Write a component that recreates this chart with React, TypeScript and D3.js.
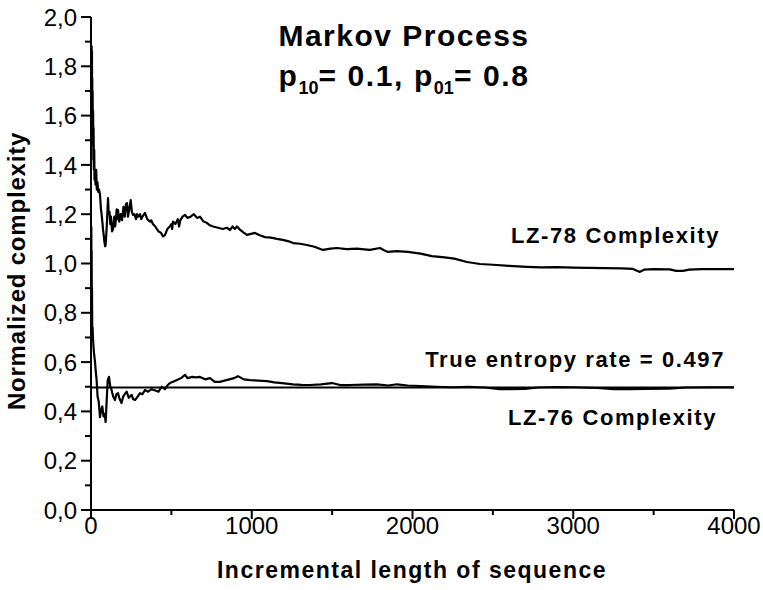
import { useEffect, useRef } from "react";
import * as d3 from "d3";

// LZ-78 normalized complexity vs. sequence length
const lz78: [number, number][] = [
  [1, 1.5], [2, 1.87], [3, 1.55], [4, 1.88], [5, 1.62], [6, 1.86], [7, 1.58], [8, 1.75],
  [9, 1.5], [10, 1.7], [12, 1.48], [13, 1.62], [15, 1.42], [16, 1.55], [18, 1.38], [20, 1.46],
  [22, 1.34], [25, 1.36], [28, 1.32], [32, 1.38], [36, 1.3], [40, 1.33], [45, 1.29], [50, 1.3],
  [56, 1.28], [62, 1.22], [66, 1.2], [72, 1.16], [75, 1.136], [80, 1.11], [83, 1.09],
  [88, 1.07], [91, 1.075], [98, 1.15], [106, 1.265], [110, 1.2], [115, 1.21], [120, 1.16], [124, 1.19], [131, 1.13],
  [137, 1.14], [145, 1.19], [150, 1.15], [152, 1.16], [160, 1.22], [165, 1.18], [168, 1.217], [176, 1.17],
  [185, 1.2], [193, 1.176], [202, 1.23], [210, 1.19], [217, 1.24], [224, 1.245],
  [230, 1.19], [238, 1.22], [247, 1.257], [254, 1.21], [261, 1.197], [270, 1.2],
  [280, 1.18], [286, 1.2], [292, 1.19], [305, 1.2], [312, 1.18], [320, 1.19], [336, 1.205], [350, 1.18],
  [367, 1.17], [375, 1.175], [385, 1.16], [400, 1.15], [410, 1.14], [420, 1.13], [435, 1.125], [448, 1.11],
  [460, 1.115], [475, 1.14], [490, 1.15], [500, 1.16], [505, 1.14], [510, 1.17], [525, 1.16], [540, 1.18],
  [548, 1.15], [555, 1.175], [570, 1.19], [585, 1.197], [600, 1.185], [620, 1.19], [640, 1.2],
  [660, 1.185], [678, 1.19], [700, 1.17], [720, 1.165], [740, 1.155], [760, 1.15],
  [790, 1.145], [820, 1.14], [845, 1.145], [865, 1.136], [880, 1.15], [895, 1.14],
  [908, 1.15], [930, 1.135], [950, 1.125], [970, 1.116], [995, 1.12], [1020, 1.124],
  [1050, 1.115], [1082, 1.107], [1120, 1.105], [1157, 1.1], [1200, 1.095], [1230, 1.09],
  [1257, 1.083], [1300, 1.08], [1343, 1.075], [1390, 1.068], [1443, 1.055], [1490, 1.06],
  [1530, 1.063], [1590, 1.058], [1655, 1.06], [1700, 1.057], [1735, 1.055], [1798, 1.063],
  [1820, 1.055], [1847, 1.047], [1900, 1.05], [1972, 1.047], [2050, 1.04], [2120, 1.03],
  [2200, 1.025], [2260, 1.02], [2339, 1.006], [2420, 0.998], [2500, 0.995], [2600, 0.99],
  [2712, 0.986], [2800, 0.984], [2900, 0.985], [3000, 0.983], [3100, 0.982], [3200, 0.981],
  [3300, 0.98], [3372, 0.978], [3400, 0.97], [3415, 0.966], [3440, 0.975], [3500, 0.977],
  [3600, 0.976], [3640, 0.97], [3683, 0.97], [3720, 0.975], [3800, 0.977], [3900, 0.977],
  [4000, 0.977],
];

// LZ-76 normalized complexity
const lz76: [number, number][] = [
  [2, 1.15], [3, 0.95], [4, 1.05], [5, 0.85], [6, 0.9], [8, 0.72], [10, 0.74], [12, 0.7], [18, 0.64], [25, 0.6],
  [30, 0.56], [35, 0.527], [41, 0.46], [48, 0.44], [56, 0.377], [62, 0.4], [70, 0.42],
  [78, 0.38], [85, 0.39], [91, 0.357], [98, 0.45], [104, 0.527], [112, 0.54], [120, 0.5],
  [128, 0.487], [138, 0.46], [149, 0.446], [158, 0.47], [168, 0.474], [178, 0.45],
  [190, 0.434], [200, 0.46], [210, 0.47], [222, 0.48], [235, 0.455], [253, 0.467],
  [262, 0.45], [274, 0.446], [290, 0.46], [305, 0.474], [320, 0.47], [336, 0.487],
  [355, 0.48], [377, 0.49], [400, 0.485], [420, 0.48], [440, 0.5], [460, 0.49],
  [475, 0.505], [491, 0.515], [510, 0.52], [535, 0.527], [560, 0.535], [585, 0.548],
  [600, 0.535], [630, 0.54], [650, 0.538], [678, 0.54], [710, 0.53], [740, 0.535],
  [770, 0.52], [802, 0.52], [830, 0.525], [860, 0.53], [890, 0.535], [914, 0.543],
  [950, 0.53], [990, 0.527], [1040, 0.525], [1095, 0.523], [1140, 0.518], [1188, 0.515],
  [1257, 0.51], [1310, 0.508], [1362, 0.507], [1430, 0.51], [1499, 0.515], [1550, 0.507],
  [1611, 0.507], [1700, 0.509], [1779, 0.51], [1850, 0.505], [1903, 0.51], [1970, 0.505],
  [2050, 0.503], [2150, 0.5], [2250, 0.498], [2350, 0.5], [2450, 0.497], [2540, 0.49],
  [2600, 0.49], [2700, 0.491], [2780, 0.497], [2900, 0.499], [3000, 0.498], [3150, 0.495],
  [3250, 0.49], [3350, 0.49], [3450, 0.491], [3600, 0.492], [3700, 0.497], [3850, 0.498],
  [4000, 0.498],
];

const entropyRate = 0.497;
const xMajor = [0, 1000, 2000, 3000, 4000];
const xMinor = [500, 1500, 2500, 3500];
const yMajor = [0, 0.2, 0.4, 0.6, 0.8, 1.0, 1.2, 1.4, 1.6, 1.8, 2.0];
const yMinor = [0.1, 0.3, 0.5, 0.7, 0.9, 1.1, 1.3, 1.5, 1.7, 1.9];

export default function App() {
  const ref = useRef<SVGSVGElement>(null);

  useEffect(() => {
    const width = 763;
    const height = 590;
    const m = { left: 91, right: 29, top: 17, bottom: 80 };
    const font = "'Liberation Sans', Arial, sans-serif";

    const svg = d3.select(ref.current);
    svg.selectAll("*").remove();

    const x = d3.scaleLinear().domain([0, 4000]).range([m.left, width - m.right]);
    const y = d3.scaleLinear().domain([0, 2]).range([height - m.bottom, m.top]);
    const commaFmt = (v: number) => d3.format(".1f")(v).replace(".", ",");

    /* -------- axes -------- */
    const axes = svg.append("g").attr("stroke", "#000").attr("stroke-width", 2);
    axes.append("line")
      .attr("x1", x(0)).attr("x2", x(0))
      .attr("y1", y(0) + 1).attr("y2", y(2));
    axes.append("line")
      .attr("x1", x(0) - 1).attr("x2", x(4000))
      .attr("y1", y(0)).attr("y2", y(0));

    axes.selectAll("line.ymaj").data(yMajor).join("line")
      .attr("class", "ymaj")
      .attr("x1", x(0) - 10).attr("x2", x(0))
      .attr("y1", (d) => y(d)).attr("y2", (d) => y(d));
    axes.selectAll("line.ymin").data(yMinor).join("line")
      .attr("class", "ymin")
      .attr("x1", x(0) - 6).attr("x2", x(0))
      .attr("y1", (d) => y(d)).attr("y2", (d) => y(d));
    axes.selectAll("line.xmaj").data(xMajor).join("line")
      .attr("class", "xmaj")
      .attr("x1", (d) => x(d)).attr("x2", (d) => x(d))
      .attr("y1", y(0)).attr("y2", y(0) + 9);
    axes.selectAll("line.xmin").data(xMinor).join("line")
      .attr("class", "xmin")
      .attr("x1", (d) => x(d)).attr("x2", (d) => x(d))
      .attr("y1", y(0)).attr("y2", y(0) + 5);

    svg.selectAll("text.ylab").data(yMajor).join("text")
      .attr("class", "ylab")
      .attr("x", x(0) - 14)
      .attr("y", (d) => y(d))
      .attr("dy", "0.36em")
      .attr("text-anchor", "end")
      .attr("font-family", font)
      .attr("font-size", 24)
      .text((d) => commaFmt(d));

    svg.selectAll("text.xlab").data(xMajor).join("text")
      .attr("class", "xlab")
      .attr("x", (d) => x(d))
      .attr("y", y(0) + 24)
      .attr("text-anchor", "middle")
      .attr("font-family", font)
      .attr("font-size", 24)
      .text((d) => String(d));

    /* -------- axis titles -------- */
    svg.append("text")
      .attr("transform", `translate(${25},${271}) rotate(-90)`)
      .attr("text-anchor", "middle")
      .attr("font-family", font)
      .attr("font-weight", "bold")
      .attr("font-size", 24)
      .attr("letter-spacing", 0.8)
      .text("Normalized complexity");

    svg.append("text")
      .attr("x", 412)
      .attr("y", 578)
      .attr("text-anchor", "middle")
      .attr("font-family", font)
      .attr("font-weight", "bold")
      .attr("font-size", 23)
      .attr("letter-spacing", 1.5)
      .text("Incremental length of sequence");

    /* -------- curves -------- */
    const line = d3.line<[number, number]>()
      .x((d) => x(d[0]))
      .y((d) => y(d[1]));

    svg.append("line")
      .attr("x1", x(0)).attr("x2", x(4000))
      .attr("y1", y(entropyRate)).attr("y2", y(entropyRate))
      .attr("stroke", "#000").attr("stroke-width", 2.2);

    [lz78, lz76].forEach((series) => {
      svg.append("path")
        .datum(series)
        .attr("d", line)
        .attr("fill", "none")
        .attr("stroke", "#000")
        .attr("stroke-width", 2.2)
        .attr("stroke-linejoin", "round");
    });

    /* -------- annotations -------- */
    const label = (tx: number, ty: number, txt: string) =>
      svg.append("text")
        .attr("x", tx)
        .attr("y", ty)
        .attr("text-anchor", "end")
        .attr("font-family", font)
        .attr("font-weight", "bold")
        .attr("font-size", 22)
        .attr("letter-spacing", 1.6)
        .text(txt);
    label(720, 243, "LZ-78 Complexity");
    label(725, 367, "True entropy rate = 0.497");
    label(717, 425, "LZ-76 Complexity");

    /* -------- title -------- */
    svg.append("text")
      .attr("x", 404)
      .attr("y", 46)
      .attr("text-anchor", "middle")
      .attr("font-family", font)
      .attr("font-weight", "bold")
      .attr("font-size", 30)
      .attr("letter-spacing", 1.5)
      .text("Markov Process");

    const t2 = svg.append("text")
      .attr("x", 404)
      .attr("y", 86)
      .attr("text-anchor", "middle")
      .attr("font-family", font)
      .attr("font-weight", "bold")
      .attr("font-size", 30)
      .attr("letter-spacing", 1.6);
    t2.append("tspan").text("p");
    t2.append("tspan").attr("font-size", 18).attr("dy", 8).attr("letter-spacing", 0).text("10");
    t2.append("tspan").attr("dy", -8).text("= 0.1, p");
    t2.append("tspan").attr("font-size", 18).attr("dy", 8).attr("letter-spacing", 0).text("01");
    t2.append("tspan").attr("dy", -8).text("= 0.8");
  }, []);

  return (
    <svg
      ref={ref}
      width={763}
      height={590}
      style={{ position: "absolute", left: 0, top: 0, background: "#fff" }}
    />
  );
}
